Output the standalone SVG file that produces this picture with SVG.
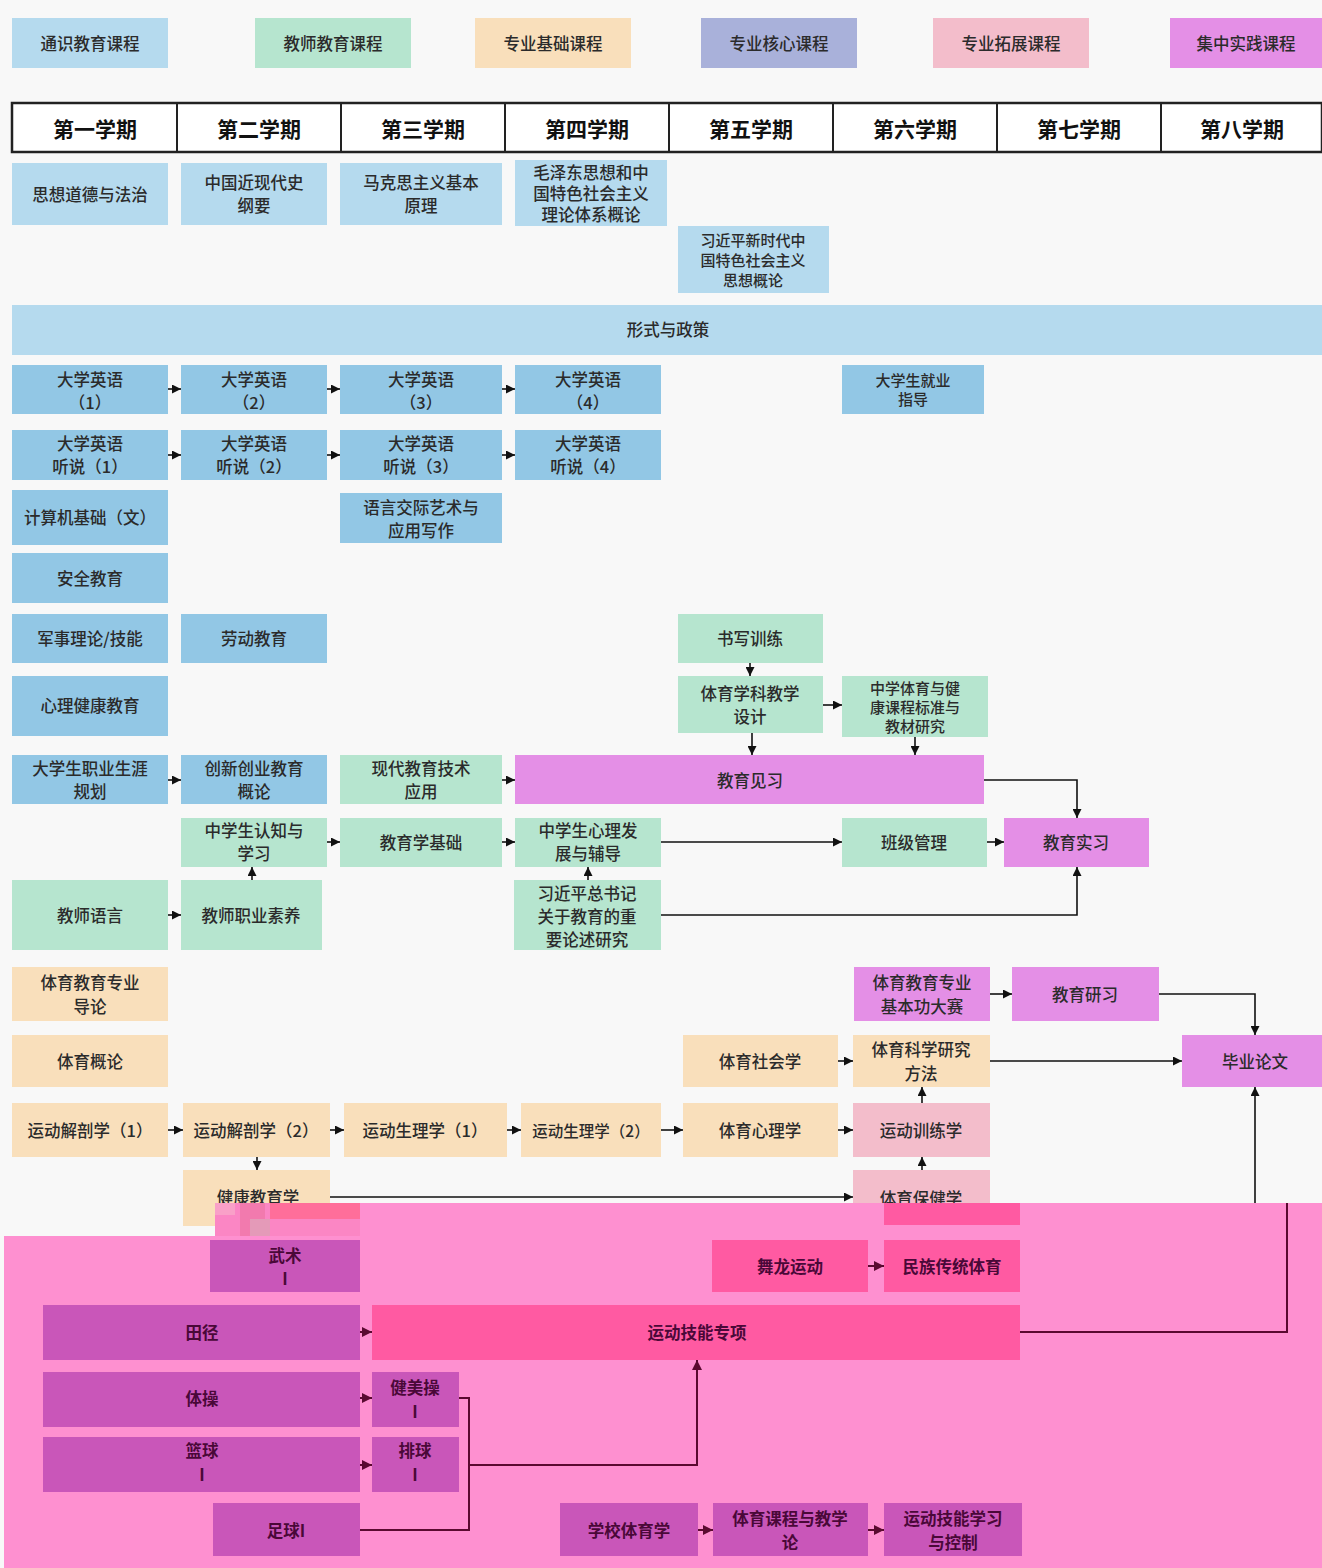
<svg xmlns="http://www.w3.org/2000/svg" width="1322" height="1568" viewBox="0 0 1322 1568">
<defs>
<style>
text{font-family:"Noto Sans CJK SC","Noto Sans",sans-serif;font-size:16.5px;font-weight:500;fill:#2b2b2b;text-anchor:middle;dominant-baseline:central}
.hd{font-size:21px;font-weight:bold;fill:#111}
.sm{font-size:15px}
.pk{fill:#4a0838;font-weight:bold}
.gb{fill:#b5daee}
.db{fill:#92c7e5}
.gr{fill:#b6e5cf}
.pe{fill:#f9dfbb}
.la{fill:#a9b1da}
.pi{fill:#f3bdcb}
.vi{fill:#e48fe6}
.mg{fill:#c956b9}
.hp{fill:#ff5aa2}
.c{fill:none;stroke:#111;stroke-width:1.6}
.cp{fill:none;stroke:#5a0a30;stroke-width:2}
</style>
<marker id="a" viewBox="0 0 10 10" refX="10" refY="5" markerWidth="9" markerHeight="9" markerUnits="userSpaceOnUse" orient="auto"><path d="M0,0 L10,5 L0,10 z" fill="#111"/></marker>
<marker id="ap" viewBox="0 0 10 10" refX="10" refY="5" markerWidth="10" markerHeight="10" markerUnits="userSpaceOnUse" orient="auto"><path d="M0,0 L10,5 L0,10 z" fill="#5a0a30"/></marker>
</defs>
<rect width="1322" height="1568" fill="#f8f8f8"/>

<g id="legend">
<rect x="12" y="18" width="156" height="50" class="gb"/><text x="90" y="43">通识教育课程</text>
<rect x="255" y="18" width="156" height="50" class="gr"/><text x="333" y="43">教师教育课程</text>
<rect x="475" y="18" width="156" height="50" class="pe"/><text x="553" y="43">专业基础课程</text>
<rect x="701" y="18" width="156" height="50" class="la"/><text x="779" y="43">专业核心课程</text>
<rect x="933" y="18" width="156" height="50" class="pi"/><text x="1011" y="43">专业拓展课程</text>
<rect x="1170" y="18" width="152" height="50" class="vi"/><text x="1246" y="43">集中实践课程</text>
</g>

<g id="header">
<rect x="12" y="103" width="1310" height="49" fill="#fff" stroke="#222" stroke-width="2.5"/>
<path d="M177,103V152M341,103V152M505,103V152M669,103V152M833,103V152M997,103V152M1161,103V152" stroke="#222" stroke-width="2"/>
<text class="hd" x="95" y="128">第一学期</text>
<text class="hd" x="259" y="128">第二学期</text>
<text class="hd" x="423" y="128">第三学期</text>
<text class="hd" x="587" y="128">第四学期</text>
<text class="hd" x="751" y="128">第五学期</text>
<text class="hd" x="915" y="128">第六学期</text>
<text class="hd" x="1079" y="128">第七学期</text>
<text class="hd" x="1242" y="128">第八学期</text>
</g>

<g id="n1"><rect x="12" y="163" width="156" height="62" class="gb"/><text x="90" y="194">思想道德与法治</text></g>
<g id="n2"><rect x="181" y="163" width="146" height="62" class="gb"/><text x="254" y="182">中国近现代史</text><text x="254" y="205">纲要</text></g>
<g id="n3"><rect x="340" y="163" width="162" height="62" class="gb"/><text x="421" y="182">马克思主义基本</text><text x="421" y="205">原理</text></g>
<g id="n4"><rect x="515" y="160" width="152" height="66" class="gb"/><text x="591" y="172">毛泽东思想和中</text><text x="591" y="193">国特色社会主义</text><text x="591" y="214">理论体系概论</text></g>
<g id="n5"><rect x="678" y="226" width="151" height="67" class="gb"/><text class="sm" x="753" y="239">习近平新时代中</text><text class="sm" x="753" y="259">国特色社会主义</text><text class="sm" x="753" y="279">思想概论</text></g>
<g id="n6"><rect x="12" y="305" width="1310" height="50" class="gb"/><text x="668" y="329">形式与政策</text></g>

<g id="e1"><rect x="12" y="365" width="156" height="49" class="db"/><text x="90" y="379">大学英语</text><text x="90" y="402">（1）</text></g>
<g id="e2"><rect x="181" y="365" width="146" height="49" class="db"/><text x="254" y="379">大学英语</text><text x="254" y="402">（2）</text></g>
<g id="e3"><rect x="340" y="365" width="162" height="49" class="db"/><text x="421" y="379">大学英语</text><text x="421" y="402">（3）</text></g>
<g id="e4"><rect x="515" y="365" width="146" height="49" class="db"/><text x="588" y="379">大学英语</text><text x="588" y="402">（4）</text></g>
<g id="jy"><rect x="842" y="365" width="142" height="49" class="db"/><text class="sm" x="913" y="379">大学生就业</text><text class="sm" x="913" y="398">指导</text></g>
<g id="l1"><rect x="12" y="430" width="156" height="50" class="db"/><text x="90" y="443">大学英语</text><text x="90" y="466">听说（1）</text></g>
<g id="l2"><rect x="181" y="430" width="146" height="50" class="db"/><text x="254" y="443">大学英语</text><text x="254" y="466">听说（2）</text></g>
<g id="l3"><rect x="340" y="430" width="162" height="50" class="db"/><text x="421" y="443">大学英语</text><text x="421" y="466">听说（3）</text></g>
<g id="l4"><rect x="515" y="430" width="146" height="50" class="db"/><text x="588" y="443">大学英语</text><text x="588" y="466">听说（4）</text></g>
<g id="jsj"><rect x="12" y="490" width="156" height="55" class="db"/><text x="90" y="517">计算机基础（文）</text></g>
<g id="yy"><rect x="340" y="493" width="162" height="50" class="db"/><text x="421" y="507">语言交际艺术与</text><text x="421" y="530">应用写作</text></g>
<g id="aq"><rect x="12" y="553" width="156" height="50" class="db"/><text x="90" y="578">安全教育</text></g>
<g id="js"><rect x="12" y="614" width="156" height="49" class="db"/><text x="90" y="638">军事理论/技能</text></g>
<g id="ld"><rect x="181" y="614" width="146" height="49" class="db"/><text x="254" y="638">劳动教育</text></g>
<g id="xl"><rect x="12" y="676" width="156" height="60" class="db"/><text x="90" y="705">心理健康教育</text></g>
<g id="zy"><rect x="12" y="755" width="156" height="49" class="db"/><text x="90" y="768">大学生职业生涯</text><text x="90" y="791">规划</text></g>
<g id="cx"><rect x="181" y="755" width="146" height="49" class="db"/><text x="254" y="768">创新创业教育</text><text x="254" y="791">概论</text></g>

<g id="sx"><rect x="678" y="614" width="145" height="49" class="gr"/><text x="750" y="638">书写训练</text></g>
<g id="jxsj"><rect x="678" y="676" width="145" height="57" class="gr"/><text x="750" y="693">体育学科教学</text><text x="750" y="716">设计</text></g>
<g id="kcbz"><rect x="842" y="676" width="146" height="61" class="gr"/><text class="sm" x="915" y="687">中学体育与健</text><text class="sm" x="915" y="706">康课程标准与</text><text class="sm" x="915" y="725">教材研究</text></g>
<g id="xdjy"><rect x="340" y="755" width="162" height="49" class="gr"/><text x="421" y="768">现代教育技术</text><text x="421" y="791">应用</text></g>
<g id="rz"><rect x="181" y="818" width="146" height="49" class="gr"/><text x="254" y="830">中学生认知与</text><text x="254" y="853">学习</text></g>
<g id="jyx"><rect x="340" y="818" width="162" height="49" class="gr"/><text x="421" y="842">教育学基础</text></g>
<g id="xlfz"><rect x="515" y="818" width="146" height="49" class="gr"/><text x="588" y="830">中学生心理发</text><text x="588" y="853">展与辅导</text></g>
<g id="bj"><rect x="842" y="818" width="145" height="49" class="gr"/><text x="914" y="842">班级管理</text></g>
<g id="jsyy"><rect x="12" y="880" width="156" height="70" class="gr"/><text x="90" y="915">教师语言</text></g>
<g id="jszy"><rect x="181" y="880" width="141" height="70" class="gr"/><text x="251" y="915">教师职业素养</text></g>
<g id="xjp"><rect x="514" y="880" width="147" height="70" class="gr"/><text x="587" y="893">习近平总书记</text><text x="587" y="916">关于教育的重</text><text x="587" y="939">要论述研究</text></g>

<g id="jyjx"><rect x="515" y="755" width="469" height="49" class="vi"/><text x="750" y="780">教育见习</text></g>
<g id="jysx"><rect x="1004" y="818" width="145" height="49" class="vi"/><text x="1076" y="842">教育实习</text></g>
<g id="jbg"><rect x="854" y="967" width="136" height="54" class="vi"/><text x="922" y="982">体育教育专业</text><text x="922" y="1006">基本功大赛</text></g>
<g id="jyyx"><rect x="1012" y="967" width="147" height="54" class="vi"/><text x="1085" y="994">教育研习</text></g>
<g id="bylw"><rect x="1182" y="1035" width="140" height="52" class="vi"/><text x="1255" y="1061">毕业论文</text></g>

<g id="dl"><rect x="12" y="967" width="156" height="54" class="pe"/><text x="90" y="982">体育教育专业</text><text x="90" y="1006">导论</text></g>
<g id="gl"><rect x="12" y="1035" width="156" height="52" class="pe"/><text x="90" y="1061">体育概论</text></g>
<g id="jp1"><rect x="12" y="1103" width="156" height="54" class="pe"/><text x="90" y="1130">运动解剖学（1）</text></g>
<g id="jp2"><rect x="183" y="1103" width="147" height="54" class="pe"/><text x="256" y="1130">运动解剖学（2）</text></g>
<g id="sl1"><rect x="344" y="1103" width="163" height="54" class="pe"/><text x="425" y="1130">运动生理学（1）</text></g>
<g id="sl2"><rect x="521" y="1103" width="140" height="54" class="pe"/><text x="591" y="1130" style="font-size:15.5px">运动生理学（2）</text></g>
<g id="shx"><rect x="683" y="1035" width="155" height="52" class="pe"/><text x="760" y="1061">体育社会学</text></g>
<g id="yjff"><rect x="853" y="1035" width="137" height="52" class="pe"/><text x="921" y="1049">体育科学研究</text><text x="921" y="1073">方法</text></g>
<g id="xlx"><rect x="683" y="1103" width="155" height="54" class="pe"/><text x="760" y="1130">体育心理学</text></g>
<g id="xljx"><rect x="853" y="1103" width="137" height="54" class="pi"/><text x="921" y="1130">运动训练学</text></g>
<g id="bjx"><rect x="853" y="1170" width="137" height="50" class="pi"/><text x="921" y="1198">体育保健学</text></g>
<g id="jkjy"><rect x="183" y="1170" width="147" height="56" class="pe"/><text x="258" y="1197">健康教育学</text></g>

<g id="connectors">
<path class="c" marker-end="url(#a)" d="M168,389H181"/>
<path class="c" marker-end="url(#a)" d="M327,389H340"/>
<path class="c" marker-end="url(#a)" d="M502,389H515"/>
<path class="c" marker-end="url(#a)" d="M168,455H181"/>
<path class="c" marker-end="url(#a)" d="M327,455H340"/>
<path class="c" marker-end="url(#a)" d="M502,455H515"/>
<path class="c" marker-end="url(#a)" d="M168,780H181"/>
<path class="c" marker-end="url(#a)" d="M502,780H515"/>
<path class="c" marker-end="url(#a)" d="M750,663V676"/>
<path class="c" marker-end="url(#a)" d="M823,705H842"/>
<path class="c" marker-end="url(#a)" d="M752,733V755"/>
<path class="c" marker-end="url(#a)" d="M915,737V755"/>
<path class="c" marker-end="url(#a)" d="M984,780H1077V818"/>
<path class="c" marker-end="url(#a)" d="M327,842H340"/>
<path class="c" marker-end="url(#a)" d="M502,842H515"/>
<path class="c" marker-end="url(#a)" d="M661,842H842"/>
<path class="c" marker-end="url(#a)" d="M987,842H1004"/>
<path class="c" marker-end="url(#a)" d="M168,915H181"/>
<path class="c" marker-end="url(#a)" d="M252,880V867"/>
<path class="c" marker-end="url(#a)" d="M588,880V867"/>
<path class="c" marker-end="url(#a)" d="M661,915H1077V867"/>
<path class="c" marker-end="url(#a)" d="M990,994H1012"/>
<path class="c" marker-end="url(#a)" d="M1159,994H1255V1035"/>
<path class="c" marker-end="url(#a)" d="M838,1061H853"/>
<path class="c" marker-end="url(#a)" d="M990,1061H1182"/>
<path class="c" marker-end="url(#a)" d="M922,1103V1087"/>
<path class="c" marker-end="url(#a)" d="M922,1170V1157"/>
<path class="c" marker-end="url(#a)" d="M168,1130H183"/>
<path class="c" marker-end="url(#a)" d="M330,1130H344"/>
<path class="c" marker-end="url(#a)" d="M507,1130H521"/>
<path class="c" marker-end="url(#a)" d="M661,1130H683"/>
<path class="c" marker-end="url(#a)" d="M838,1130H853"/>
<path class="c" marker-end="url(#a)" d="M257,1157V1170"/>
<path class="c" stroke-width="2.5" marker-end="url(#a)" d="M330,1197H853"/>
<path class="c" marker-end="url(#a)" d="M1255,1203V1087"/>
</g>

<g id="overlay">
<path d="M4,1236H215V1203H1322V1568H4Z" fill="#fe90d0"/>
<rect x="215" y="1203" width="145" height="33" fill="#fb86c4"/>
<rect x="215" y="1203" width="20" height="12" fill="#f9a0c8"/>
<rect x="240" y="1203" width="25" height="33" fill="#f27aae"/>
<rect x="270" y="1203" width="90" height="16" fill="#ff6e9a"/>
<rect x="250" y="1219" width="20" height="17" fill="#e49ab8"/>
<rect x="884" y="1203" width="136" height="22" class="hp"/>
</g>

<g id="ws"><rect x="210" y="1240" width="150" height="52" class="mg"/><text class="pk" x="285" y="1255">武术</text><text class="pk" x="285" y="1278">I</text></g>
<g id="wl"><rect x="712" y="1240" width="156" height="52" class="hp"/><text class="pk" x="790" y="1266">舞龙运动</text></g>
<g id="mz"><rect x="884" y="1240" width="136" height="52" class="hp"/><text class="pk" x="952" y="1266">民族传统体育</text></g>
<g id="tj"><rect x="43" y="1305" width="317" height="55" class="mg"/><text class="pk" x="202" y="1332">田径</text></g>
<g id="jnzx"><rect x="372" y="1305" width="648" height="55" class="hp"/><text class="pk" x="697" y="1332">运动技能专项</text></g>
<g id="tc"><rect x="43" y="1372" width="317" height="55" class="mg"/><text class="pk" x="202" y="1398">体操</text></g>
<g id="jmc"><rect x="372" y="1372" width="87" height="55" class="mg"/><text class="pk" x="415" y="1387">健美操</text><text class="pk" x="415" y="1411">I</text></g>
<g id="lq"><rect x="43" y="1437" width="317" height="55" class="mg"/><text class="pk" x="202" y="1450">篮球</text><text class="pk" x="202" y="1474">I</text></g>
<g id="pq"><rect x="372" y="1437" width="87" height="55" class="mg"/><text class="pk" x="415" y="1450">排球</text><text class="pk" x="415" y="1474">I</text></g>
<g id="zq"><rect x="213" y="1503" width="147" height="53" class="mg"/><text class="pk" x="286" y="1530">足球I</text></g>
<g id="xxty"><rect x="560" y="1503" width="138" height="53" class="mg"/><text class="pk" x="629" y="1530">学校体育学</text></g>
<g id="kcjx"><rect x="713" y="1503" width="155" height="53" class="mg"/><text class="pk" x="790" y="1518">体育课程与教学</text><text class="pk" x="790" y="1542">论</text></g>
<g id="jnxx"><rect x="884" y="1503" width="138" height="53" class="mg"/><text class="pk" x="953" y="1518">运动技能学习</text><text class="pk" x="953" y="1542">与控制</text></g>

<g id="connectors-lower">
<path class="cp" marker-end="url(#ap)" d="M868,1266H884"/>
<path class="cp" marker-end="url(#ap)" d="M360,1332H372"/>
<path class="cp" marker-end="url(#ap)" d="M360,1398H372"/>
<path class="cp" marker-end="url(#ap)" d="M360,1465H372"/>
<path class="cp" d="M459,1398H469V1530H360"/>
<path class="cp" marker-end="url(#ap)" d="M469,1465H697V1360"/>
<path class="cp" d="M1020,1332H1287V1203"/>
<path class="cp" marker-end="url(#ap)" d="M698,1530H713"/>
<path class="cp" marker-end="url(#ap)" d="M868,1530H884"/>
</g>
</svg>
